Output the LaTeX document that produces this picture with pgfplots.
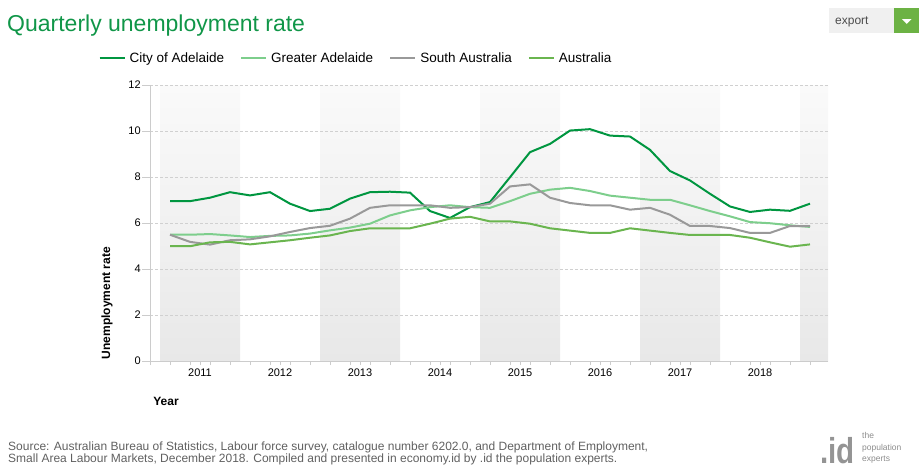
\documentclass[border=0pt]{standalone}
\usepackage{pgfplots}
\pgfplotsset{compat=1.18}
\usepackage{pgfplotstable}
\usepackage{fontspec}
\setmainfont{Liberation Sans}
\definecolor{cityc}{RGB}{0,150,64}
\definecolor{greaterc}{RGB}{125,206,140}
\definecolor{sac}{RGB}{153,153,153}
\definecolor{ausc}{RGB}{106,181,79}
\definecolor{titlec}{RGB}{16,150,72}
\definecolor{axisgray}{RGB}{204,204,204}
\definecolor{gridgray}{RGB}{208,208,208}
\definecolor{bandtop}{RGB}{250,250,250}
\definecolor{bandbot}{RGB}{232,232,232}
\definecolor{footc}{RGB}{96,96,96}
\definecolor{btngreen}{RGB}{108,178,68}
\definecolor{btngray}{RGB}{240,240,240}

\pgfplotstableread{
i city greater sa aus
0 6.95 5.49 5.49 4.99
1 6.95 5.49 5.18 4.99
2 7.10 5.52 5.06 5.16
3 7.34 5.46 5.25 5.18
4 7.20 5.39 5.29 5.07
5 7.34 5.44 5.42 5.16
6 6.84 5.46 5.61 5.25
7 6.52 5.54 5.78 5.36
8 6.62 5.68 5.88 5.46
9 7.06 5.80 6.19 5.65
10 7.34 5.97 6.66 5.77
11 7.36 6.33 6.77 5.77
12 7.32 6.55 6.77 5.77
13 6.52 6.69 6.77 5.97
14 6.22 6.77 6.66 6.19
15 6.69 6.69 6.69 6.27
16 6.91 6.66 6.84 6.07
17 7.99 6.95 7.59 6.07
18 9.08 7.27 7.68 5.97
19 9.44 7.45 7.10 5.77
20 10.02 7.53 6.87 5.67
21 10.08 7.39 6.77 5.57
22 9.80 7.19 6.77 5.57
23 9.76 7.10 6.58 5.77
24 9.18 7.01 6.66 5.67
25 8.26 7.01 6.36 5.57
26 7.85 6.77 5.87 5.48
27 7.27 6.52 5.87 5.48
28 6.72 6.29 5.78 5.48
29 6.48 6.04 5.57 5.36
30 6.58 5.99 5.57 5.16
31 6.53 5.90 5.87 4.97
32 6.84 5.83 5.86 5.07
}\datatable

\pgfplotsset{geom/.style={
  at={(150pt,-361pt)}, anchor=south west,
  scale only axis, width=678pt, height=276pt,
  xmin=-1, xmax=32.9, ymin=0, ymax=12}}

\begin{document}
\begin{tikzpicture}
\path[use as bounding box] (0pt,0pt) rectangle (919pt,-472pt);
% title
\node[anchor=base west, inner sep=0pt, text=titlec, font=\fontsize{23}{27}\selectfont] at (7pt,-31pt) {Quarterly unemployment rate};
% export button
\fill[btngray] (829pt,-8pt) rectangle (894pt,-33pt);
\fill[btngreen] (894pt,-8pt) rectangle (919pt,-33pt);
\fill[white] (902pt,-19pt) -- (911.5pt,-19pt) -- (906.75pt,-24pt) -- cycle;
\node[anchor=base west, inner sep=0pt, text=black!70, font=\fontsize{12}{14}\selectfont] at (835pt,-24pt) {export};

% background year bands
\begin{axis}[geom, hide axis]
\fill[top color=bandtop, bottom color=bandbot] (axis cs:-0.5,0) rectangle (axis cs:3.5,12);
\fill[top color=bandtop, bottom color=bandbot] (axis cs:7.5,0) rectangle (axis cs:11.5,12);
\fill[top color=bandtop, bottom color=bandbot] (axis cs:15.5,0) rectangle (axis cs:19.5,12);
\fill[top color=bandtop, bottom color=bandbot] (axis cs:23.5,0) rectangle (axis cs:27.5,12);
\fill[top color=bandtop, bottom color=bandbot] (axis cs:31.5,0) rectangle (axis cs:32.9,12);
\end{axis}

\begin{axis}[
  geom,
  axis lines*=left,
  axis line style={draw=axisgray, line width=1pt},
  tick align=outside,
  xtick={-1,0,...,32},
  xticklabels={},
  xtick style={draw=axisgray, line width=0.8pt, /pgfplots/major tick length=4pt},
  extra x ticks={1.5,5.5,9.5,13.5,17.5,21.5,25.5,29.5},
  extra x tick labels={2011,2012,2013,2014,2015,2016,2017,2018},
  extra x tick style={major tick length=0pt, grid=none},
  ytick={0,2,...,12},
  ytick style={draw=axisgray, line width=0.8pt, /pgfplots/major tick length=8pt},
  ymajorgrids=true,
  grid style={draw=gridgray, dash pattern=on 3pt off 2pt, line width=0.8pt},
  /pgf/number format/assume math mode=true,
  ticklabel style={font=\fontsize{11}{13}\selectfont, text=black},
  xticklabel style={yshift=-4pt},
  yticklabel style={xshift=-1.5pt},
  xlabel={Year},
  xlabel style={font=\bfseries\fontsize{12}{14}\selectfont, at={(axis description cs:0.0236,-0.145)}, anchor=center},
  ylabel={Unemployment rate},
  ylabel style={font=\bfseries\fontsize{12}{14}\selectfont, at={(axis description cs:-0.0634,0.21)}, anchor=center, rotate=0},
  legend columns=4,
  legend cell align=left,
  legend image code/.code={\draw[#1] (0pt,0pt) -- (25pt,0pt);},
  legend style={at={(axis description cs:-0.076,1.098)}, anchor=west, draw=none, fill=none, inner sep=0pt,
    font=\fontsize{13.5}{16}\selectfont,
    /tikz/every odd column/.append style={column sep=2pt},
    /tikz/every even column/.append style={column sep=14pt}},
]
\addplot[cityc, line width=2pt, no markers] table[x=i, y=city] {\datatable};
\addlegendentry{City of Adelaide}
\addplot[greaterc, line width=2pt, no markers] table[x=i, y=greater] {\datatable};
\addlegendentry{Greater Adelaide}
\addplot[sac, line width=2pt, no markers] table[x=i, y=sa] {\datatable};
\addlegendentry{South Australia}
\addplot[ausc, line width=2pt, no markers] table[x=i, y=aus] {\datatable};
\addlegendentry{Australia}
\end{axis}

% footer
\node[anchor=base west, inner sep=0pt, text=footc, font=\fontsize{12}{14}\selectfont] at (8pt,-450pt) {Source: Australian Bureau of Statistics, Labour force survey, catalogue number 6202.0, and Department of Employment,};
\node[anchor=base west, inner sep=0pt, text=footc, font=\fontsize{12}{14}\selectfont] at (8pt,-462.5pt) {Small Area Labour Markets, December 2018. Compiled and presented in economy.id by .id the population experts.};
% logo
\node[anchor=base west, inner sep=0pt, text=black!42, font=\bfseries\fontsize{36}{40}\selectfont] at (820pt,-463pt) {\scalebox{0.82}[1]{.id}};
\node[anchor=north west, inner sep=0pt, align=left, text=black!45, font=\fontsize{8.5}{11.5}\selectfont] at (862pt,-432.5pt) {the\\population\\experts};
\end{tikzpicture}
\end{document}
